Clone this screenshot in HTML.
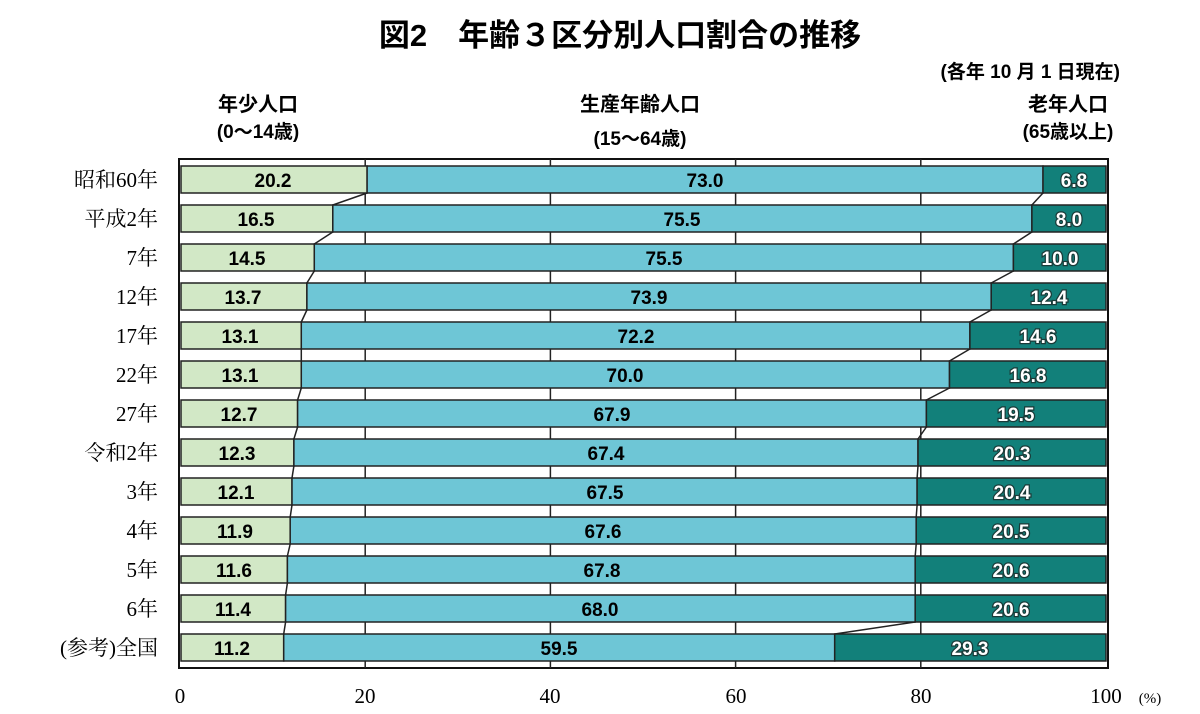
<!DOCTYPE html>
<html><head><meta charset="utf-8"><style>
body{margin:0;background:#fff;}
svg{display:block;}
.t{font-family:"Liberation Sans","Noto Sans CJK JP",sans-serif;font-weight:bold;}
.n{font-family:"Liberation Sans",sans-serif;font-weight:bold;font-size:19px;text-anchor:middle;}
.w{fill:#fff;stroke:#1a3a38;stroke-width:2.5px;paint-order:stroke;}
.r{font-family:"Liberation Serif","Noto Serif CJK SC",serif;font-size:21px;text-anchor:end;}
.x{font-family:"Liberation Serif",serif;font-size:21px;text-anchor:middle;}
.g{fill:#d2e8c6;stroke:#222;stroke-width:1.5}
.c{fill:#6ec6d6;stroke:#222;stroke-width:1.5}
.d{fill:#12807a;stroke:#222;stroke-width:1.5}
</style></head><body>
<svg width="1200" height="714" viewBox="0 0 1200 714" xmlns="http://www.w3.org/2000/svg">
<text class="t" x="620" y="46" font-size="31" text-anchor="middle">図2　年齢３区分別人口割合の推移</text>
<text class="t" x="1120" y="78" font-size="19" text-anchor="end">(各年 10 月 1 日現在)</text>
<text class="t" x="258" y="111" font-size="20" text-anchor="middle">年少人口</text>
<text class="t" x="258" y="138" font-size="19" text-anchor="middle">(0～14歳)</text>
<text class="t" x="640" y="111" font-size="20" text-anchor="middle">生産年齢人口</text>
<text class="t" x="640" y="145" font-size="19" text-anchor="middle">(15～64歳)</text>
<text class="t" x="1068" y="111" font-size="20" text-anchor="middle">老年人口</text>
<text class="t" x="1068" y="138" font-size="19" text-anchor="middle">(65歳以上)</text>

<rect x="179" y="159" width="929" height="509" fill="#fff" stroke="#111" stroke-width="2"/>
<g stroke="#222" stroke-width="1.5">
<line x1="365.2" y1="159" x2="365.2" y2="668"/>
<line x1="550.4" y1="159" x2="550.4" y2="668"/>
<line x1="735.6" y1="159" x2="735.6" y2="668"/>
<line x1="920.8" y1="159" x2="920.8" y2="668"/>
<line x1="367.1" y1="193" x2="332.8" y2="205"/>
<line x1="1043" y1="193" x2="1031.9" y2="205"/>
<line x1="332.8" y1="232" x2="314.3" y2="244"/>
<line x1="1031.9" y1="232" x2="1013.4" y2="244"/>
<line x1="314.3" y1="271" x2="306.9" y2="283"/>
<line x1="1013.4" y1="271" x2="991.2" y2="283"/>
<line x1="306.9" y1="310" x2="301.3" y2="322"/>
<line x1="991.2" y1="310" x2="969.9" y2="322"/>
<line x1="301.3" y1="349" x2="301.3" y2="361"/>
<line x1="969.9" y1="349" x2="949.5" y2="361"/>
<line x1="301.3" y1="388" x2="297.6" y2="400"/>
<line x1="949.5" y1="388" x2="926.4" y2="400"/>
<line x1="297.6" y1="427" x2="293.9" y2="439"/>
<line x1="926.4" y1="427" x2="918" y2="439"/>
<line x1="293.9" y1="466" x2="292" y2="478"/>
<line x1="918" y1="466" x2="917.1" y2="478"/>
<line x1="292" y1="505" x2="290.2" y2="517"/>
<line x1="917.1" y1="505" x2="916.2" y2="517"/>
<line x1="290.2" y1="544" x2="287.4" y2="556"/>
<line x1="916.2" y1="544" x2="915.2" y2="556"/>
<line x1="287.4" y1="583" x2="285.6" y2="595"/>
<line x1="915.2" y1="583" x2="915.2" y2="595"/>
<line x1="285.6" y1="622" x2="283.7" y2="634"/>
<line x1="915.2" y1="622" x2="834.7" y2="634"/>
</g>

<!-- rows -->
<g>
<rect class="g" x="181" y="166" width="186.1" height="27"/><rect class="c" x="367.1" y="166" width="675.9" height="27"/><rect class="d" x="1043" y="166" width="63" height="27"/>
<rect class="g" x="181" y="205" width="151.8" height="27"/><rect class="c" x="332.8" y="205" width="699.1" height="27"/><rect class="d" x="1031.9" y="205" width="74.1" height="27"/>
<rect class="g" x="181" y="244" width="133.3" height="27"/><rect class="c" x="314.3" y="244" width="699.1" height="27"/><rect class="d" x="1013.4" y="244" width="92.6" height="27"/>
<rect class="g" x="181" y="283" width="125.9" height="27"/><rect class="c" x="306.9" y="283" width="684.3" height="27"/><rect class="d" x="991.2" y="283" width="114.8" height="27"/>
<rect class="g" x="181" y="322" width="120.3" height="27"/><rect class="c" x="301.3" y="322" width="668.6" height="27"/><rect class="d" x="969.9" y="322" width="136.1" height="27"/>
<rect class="g" x="181" y="361" width="120.3" height="27"/><rect class="c" x="301.3" y="361" width="648.2" height="27"/><rect class="d" x="949.5" y="361" width="156.5" height="27"/>
<rect class="g" x="181" y="400" width="116.6" height="27"/><rect class="c" x="297.6" y="400" width="628.8" height="27"/><rect class="d" x="926.4" y="400" width="179.6" height="27"/>
<rect class="g" x="181" y="439" width="112.9" height="27"/><rect class="c" x="293.9" y="439" width="624.1" height="27"/><rect class="d" x="918" y="439" width="188" height="27"/>
<rect class="g" x="181" y="478" width="111" height="27"/><rect class="c" x="292" y="478" width="625.1" height="27"/><rect class="d" x="917.1" y="478" width="188.9" height="27"/>
<rect class="g" x="181" y="517" width="109.2" height="27"/><rect class="c" x="290.2" y="517" width="626" height="27"/><rect class="d" x="916.2" y="517" width="189.8" height="27"/>
<rect class="g" x="181" y="556" width="106.4" height="27"/><rect class="c" x="287.4" y="556" width="627.8" height="27"/><rect class="d" x="915.2" y="556" width="190.8" height="27"/>
<rect class="g" x="181" y="595" width="104.6" height="27"/><rect class="c" x="285.6" y="595" width="629.6" height="27"/><rect class="d" x="915.2" y="595" width="190.8" height="27"/>
<rect class="g" x="181" y="634" width="102.7" height="27"/><rect class="c" x="283.7" y="634" width="551" height="27"/><rect class="d" x="834.7" y="634" width="271.3" height="27"/>
</g>

<g class="n">
<text x="273" y="187">20.2</text><text x="705" y="187">73.0</text><text class="w" x="1074" y="187">6.8</text>
<text x="256" y="226">16.5</text><text x="682" y="226">75.5</text><text class="w" x="1069" y="226">8.0</text>
<text x="247" y="265">14.5</text><text x="664" y="265">75.5</text><text class="w" x="1060" y="265">10.0</text>
<text x="243" y="304">13.7</text><text x="649" y="304">73.9</text><text class="w" x="1049" y="304">12.4</text>
<text x="240" y="343">13.1</text><text x="636" y="343">72.2</text><text class="w" x="1038" y="343">14.6</text>
<text x="240" y="382">13.1</text><text x="625" y="382">70.0</text><text class="w" x="1028" y="382">16.8</text>
<text x="239" y="421">12.7</text><text x="612" y="421">67.9</text><text class="w" x="1016" y="421">19.5</text>
<text x="237" y="460">12.3</text><text x="606" y="460">67.4</text><text class="w" x="1012" y="460">20.3</text>
<text x="236" y="499">12.1</text><text x="605" y="499">67.5</text><text class="w" x="1012" y="499">20.4</text>
<text x="235" y="538">11.9</text><text x="603" y="538">67.6</text><text class="w" x="1011" y="538">20.5</text>
<text x="234" y="577">11.6</text><text x="602" y="577">67.8</text><text class="w" x="1011" y="577">20.6</text>
<text x="233" y="616">11.4</text><text x="600" y="616">68.0</text><text class="w" x="1011" y="616">20.6</text>
<text x="232" y="655">11.2</text><text x="559" y="655">59.5</text><text class="w" x="970" y="655">29.3</text>
</g>

<g class="r">
<text x="158" y="187">昭和60年</text>
<text x="158" y="226">平成2年</text>
<text x="158" y="265">7年</text>
<text x="158" y="304">12年</text>
<text x="158" y="343">17年</text>
<text x="158" y="382">22年</text>
<text x="158" y="421">27年</text>
<text x="158" y="460">令和2年</text>
<text x="158" y="499">3年</text>
<text x="158" y="538">4年</text>
<text x="158" y="577">5年</text>
<text x="158" y="616">6年</text>
<text x="158" y="655">(参考)全国</text>
</g>
<g class="x">
<text x="180" y="703">0</text>
<text x="365" y="703">20</text>
<text x="550" y="703">40</text>
<text x="736" y="703">60</text>
<text x="921" y="703">80</text>
<text x="1106" y="703">100</text>
</g>
<text x="1150" y="703" font-family="Liberation Serif,serif" font-size="15" text-anchor="middle">(%)</text>
</svg>
</body></html>
